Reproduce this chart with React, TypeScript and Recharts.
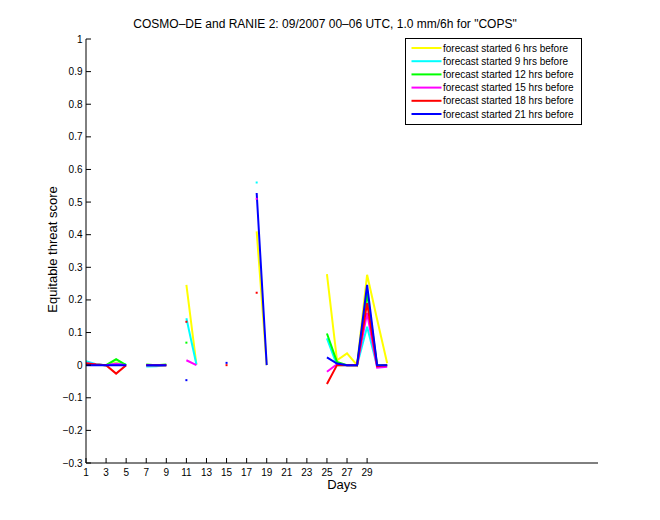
import React from 'react';
import { LineChart, Line, XAxis, YAxis, Legend } from 'recharts';

const FONT = '"Liberation Sans", Arial, Helvetica, sans-serif';

const TITLE = 'COSMO–DE and RANIE 2: 09/2007 00–06 UTC, 1.0 mm/6h for "COPS"';
const X_LABEL = 'Days';
const Y_LABEL = 'Equitable threat score';

const days = [1, 2, 3, 4, 5, 6, 7, 8, 9, 10, 11, 12, 13, 14, 15, 16, 17, 18, 19, 20, 21, 22, 23, 24, 25, 26, 27, 28, 29, 30, 31];

const s6h = [0.004, 0.001, 0, 0.008, 0, null, 0, 0, 0, null, 0.246, 0.002, null, null, null, null, null, 0.41, 0, null, null, null, null, null, 0.279, 0.015, 0.036, 0, 0.277, 0.14, 0.006];
const s9h = [0.012, 0.003, 0, 0.005, 0.002, null, -0.004, -0.003, 0, null, 0.144, 0.002, null, null, null, null, null, 0.56, null, null, null, null, null, null, 0.082, 0, 0, 0, 0.118, -0.004, 0];
const s12h = [0.005, 0.002, 0, 0.018, 0, null, 0.002, 0, 0.002, null, 0.069, null, null, null, null, null, null, null, null, null, null, null, null, null, 0.097, 0.01, 0, 0, 0.22, 0, 0];
const s15h = [0.007, 0.002, 0, 0.004, 0, null, 0, 0, 0, null, 0.015, 0, null, null, null, null, null, 0.51, null, null, null, null, null, null, -0.02, 0.003, 0, 0, 0.16, -0.008, -0.005];
const s18h = [0.005, 0.002, 0, -0.026, 0, null, 0, 0, 0, null, 0.133, null, null, null, 0, null, null, 0.222, null, null, null, null, null, null, -0.058, 0, 0, 0, 0.19, -0.003, 0];
const s21h = [0, 0, 0, 0, 0, null, 0, 0, 0, null, -0.046, null, null, null, 0.007, null, null, 0.528, 0, null, null, null, null, null, 0.024, 0.005, 0, 0, 0.246, 0, 0];

const seriesNames = [
  'forecast started 6 hrs before',
  'forecast started 9 hrs before',
  'forecast started 12 hrs before',
  'forecast started 15 hrs before',
  'forecast started 18 hrs before',
  'forecast started 21 hrs before',
];
const seriesColors = ['#ffff00', '#00ffff', '#00ff00', '#ff00ff', '#ff0000', '#0000ff'];
const seriesValues = [s6h, s9h, s12h, s15h, s18h, s21h];
const seriesKeys = ['h6', 'h9', 'h12', 'h15', 'h18', 'h21'];

const xTicks = [1, 3, 5, 7, 9, 11, 13, 15, 17, 19, 21, 23, 25, 27, 29];
const yTicks = [-0.3, -0.2, -0.1, 0, 0.1, 0.2, 0.3, 0.4, 0.5, 0.6, 0.7, 0.8, 0.9, 1];

const data = days.map((d, i) => {
  const row: Record<string, number | null> = { day: d };
  seriesKeys.forEach((k, j) => {
    row[k] = seriesValues[j][i];
  });
  return row;
});

const fmtY = (v: number) => {
  const r = Math.round(v * 10) / 10;
  if (r === 0) return '0';
  if (r < 0) return '−' + String(Math.abs(r));
  return String(r);
};

const XTick = (props: any) => {
  const { x, y, payload } = props;
  return (
    <g>
      <line x1={x} x2={x} y1={y} y2={y - 5} stroke="#000" strokeWidth={1} />
      <text x={x} y={y + 12.5} textAnchor="middle" fontSize={10} fontFamily={FONT} fill="#000">
        {payload.value}
      </text>
    </g>
  );
};

const YTick = (props: any) => {
  const { x, y, payload } = props;
  return (
    <g>
      <line x1={x} x2={x + 5} y1={y} y2={y} stroke="#000" strokeWidth={1} />
      <text x={x - 3.5} y={y + 3.5} textAnchor="end" fontSize={10} fontFamily={FONT} fill="#000">
        {fmtY(payload.value)}
      </text>
    </g>
  );
};

const makeDot = (values: (number | null)[], color: string) => (props: any) => {
  const { cx, cy, index } = props;
  const v = values[index];
  const prev = index > 0 ? values[index - 1] : null;
  const next = index < values.length - 1 ? values[index + 1] : null;
  const isolated = v !== null && v !== undefined && prev === null && next === null;
  if (!isolated || cx == null || cy == null) return <g key={`d-${index}`} />;
  return <rect key={`d-${index}`} x={cx - 1} y={cy - 1} width={2} height={2} fill={color} />;
};

const LegendBox = (props: any) => {
  const payload: any[] = (props.payload || []).slice();
  payload.sort((a, b) => seriesNames.indexOf(a.value) - seriesNames.indexOf(b.value));
  return (
    <svg width={178} height={88} style={{ display: 'block' }}>
      <rect x={0.5} y={0.5} width={176} height={86} fill="#fff" stroke="#000" strokeWidth={1} />
      {payload.map((p, i) => {
        const cy = 10 + i * 13.2;
        return (
          <g key={p.value}>
            <line x1={6.5} x2={36.5} y1={cy} y2={cy} stroke={p.color} strokeWidth={2} />
            <text x={38} y={cy + 3.5} fontSize={10} fontFamily={FONT} fill="#000">
              {p.value}
            </text>
          </g>
        );
      })}
    </svg>
  );
};

export default function App() {
  return (
    <div style={{ position: 'absolute', left: 0, top: 0, width: 660, height: 520, background: '#fff', fontFamily: FONT }}>
      <div
        style={{
          position: 'absolute',
          left: 0,
          top: 18,
          width: 650,
          textAlign: 'center',
          fontSize: 12,
          lineHeight: '12px',
          fontFamily: FONT,
          color: '#000',
          whiteSpace: 'nowrap',
        }}
      >
        {TITLE}
      </div>
      <LineChart width={660} height={520} data={data} margin={{ top: 39, right: 62, bottom: 0, left: 0 }}>
        <XAxis
          dataKey="day"
          type="number"
          domain={[1, 52]}
          ticks={xTicks}
          interval={0}
          height={57}
          tickSize={0}
          tickMargin={0}
          tickLine={false}
          axisLine={{ stroke: '#000', strokeWidth: 1 }}
          tick={<XTick />}
          allowDataOverflow
          label={{
            content: (p: any) => {
              const vb = p.viewBox || { x: 86, y: 463, width: 512 };
              return (
                <text x={vb.x + vb.width / 2} y={vb.y + 26} textAnchor="middle" fontSize={13} fontFamily={FONT} fill="#000">
                  {X_LABEL}
                </text>
              );
            },
          }}
        />
        <YAxis
          type="number"
          domain={[-0.3, 1]}
          ticks={yTicks}
          interval={0}
          width={86}
          tickSize={0}
          tickMargin={0}
          tickLine={false}
          axisLine={{ stroke: '#000', strokeWidth: 1 }}
          tick={<YTick />}
          allowDataOverflow
          label={{
            content: (p: any) => {
              const vb = p.viewBox || { x: 0, y: 39, height: 424 };
              const cx = vb.x + 57;
              const cy = vb.y + vb.height / 2 - 1.5;
              return (
                <text x={cx} y={cy} transform={`rotate(-90, ${cx}, ${cy})`} textAnchor="middle" fontSize={13} fontFamily={FONT} fill="#000">
                  {Y_LABEL}
                </text>
              );
            },
          }}
        />
        <Legend
          layout="horizontal"
          verticalAlign="middle"
          align="center"
          content={<LegendBox />}
          wrapperStyle={{ left: 405, top: 38, width: 178, height: 88 }}
        />
        {seriesKeys.map((k, j) => (
          <Line
            key={k}
            dataKey={k}
            name={seriesNames[j]}
            stroke={seriesColors[j]}
            strokeWidth={2}
            type="linear"
            connectNulls={false}
            dot={makeDot(seriesValues[j], seriesColors[j])}
            activeDot={false}
            isAnimationActive={false}
          />
        ))}
      </LineChart>
    </div>
  );
}
